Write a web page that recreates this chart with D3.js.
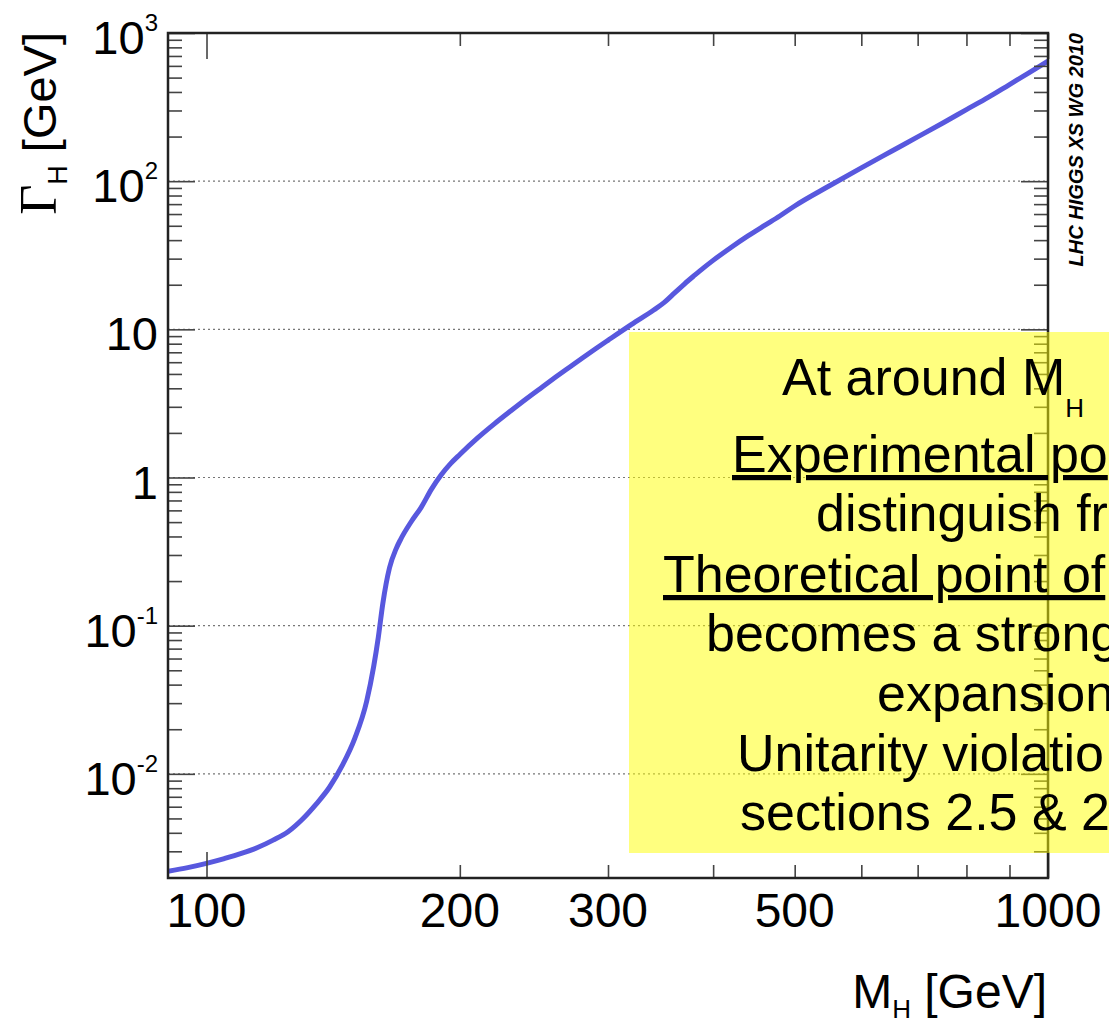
<!DOCTYPE html>
<html><head><meta charset="utf-8">
<script src="https://cdn.jsdelivr.net/npm/d3@7"></script>
<style>html,body{margin:0;padding:0;background:#fff;overflow:hidden}</style>
</head><body>
<svg id="chart" width="1109" height="1023"></svg>
<script>
// ---------- data ----------
const massGeV  = [90, 95, 100, 105, 110, 115, 120, 125, 130, 135, 140, 145, 150, 155, 158, 160, 162, 165, 168, 170, 175, 180, 185, 190, 195, 200, 210, 220, 230, 240, 250, 260, 270, 280, 290, 300, 320, 340, 350, 360, 370, 380, 390, 400, 420, 440, 460, 480, 500, 550, 600, 650, 700, 750, 800, 850, 900, 950, 1000];
const widthGeV = [0.00220, 0.00233, 0.00249, 0.00268, 0.00290, 0.00318, 0.00357, 0.00407, 0.00494, 0.00625, 0.00812, 0.0114, 0.0173, 0.0309, 0.0530, 0.0831, 0.141, 0.246, 0.330, 0.380, 0.501, 0.631, 0.832, 1.04, 1.24, 1.43, 1.85, 2.31, 2.82, 3.40, 4.04, 4.76, 5.55, 6.43, 7.39, 8.43, 10.8, 13.5, 15.2, 17.6, 20.3, 23.1, 26.1, 29.2, 35.7, 42.7, 50.1, 58.2, 68.0, 93.1, 123, 158, 199, 247, 304, 369, 449, 540, 647];

const xLabelValues = [100, 200, 300, 500, 1000];
const xMajorTickValues = [100, 1000];
const xMinorTickValues = [200, 300, 400, 500, 600, 700, 800, 900];
const yDecadeValues = [0.01, 0.1, 1, 10, 100, 1000];
const yLabelBase = ["10", "10", "1", "10", "10", "10"];
const yLabelExp  = ["-2", "-1", "", "", "2", "3"];
const yGridValues = [0.01, 0.1, 1, 10, 100];

const xTitleMain = "M", xTitleSub = "H", xTitleRest = " [GeV]";
const yTitleMain = "\u0393", yTitleSub = "H", yTitleRest = " [GeV]";
const stampText = "LHC HIGGS XS WG 2010";

const boxLines = [
  {parts: [["At around M", 0], ["H", 1]], underline: false},
  {parts: [["Experimental po", 0]], underline: true},
  {parts: [["distinguish fr", 0]], underline: false},
  {parts: [["Theoretical point of", 0]], underline: true},
  {parts: [["becomes a strong", 0]], underline: false},
  {parts: [["expansion", 0]], underline: false},
  {parts: [["Unitarity violatio", 0]], underline: false},
  {parts: [["sections 2.5 & 2", 0]], underline: false}
];

// ---------- layout ----------
const L = 168, R = 1048, T = 33, B = 878;
const boxX = [782, 732, 816, 663, 706, 877, 737, 740];
const boxY = [395, 472, 531, 592, 651, 711, 771, 830];

const svg = d3.select("#chart");
const x = d3.scaleLog().domain([90, 1000]).range([L, R]);
const y = d3.scaleLog().domain([Math.pow(10, -2.703), 1000]).range([B, T]);

const yMinorTickValues = [];
for (let k = -3; k <= 2; k++) for (let m = 2; m <= 9; m++) {
  const v = m * Math.pow(10, k);
  if (v > y.domain()[0] * 1.03 && v < 1000) yMinorTickValues.push(v);
}

const font = "'Liberation Sans', Arial, Helvetica, sans-serif";

// grid
svg.append("g").selectAll("line").data(yGridValues).join("line")
  .attr("x1", L).attr("x2", R).attr("y1", d => y(d)).attr("y2", d => y(d))
  .attr("stroke", "#777").attr("stroke-width", 1.2).attr("stroke-dasharray", "2,3");

// curve
svg.append("clipPath").attr("id", "plotclip").append("rect")
  .attr("x", L).attr("y", T).attr("width", R - L).attr("height", B - T);
const line = d3.line().x(d => x(d[0])).y(d => y(d[1])).curve(d3.curveMonotoneX);
svg.append("path").datum(massGeV.map((m, i) => [m, widthGeV[i]]))
  .attr("clip-path", "url(#plotclip)")
  .attr("d", line).attr("fill", "none").attr("stroke", "#5858de").attr("stroke-width", 5)
  .attr("stroke-linejoin", "round");

// ticks via d3 axes
function ticks(axisFn, scale, vals, size, tr) {
  const g = svg.append("g").attr("transform", tr)
    .call(axisFn(scale).tickValues(vals).tickSize(size).tickFormat(""));
  g.select(".domain").remove();
  g.selectAll("line").attr("stroke", "#444").attr("stroke-width", 1.6);
}
ticks(d3.axisTop, x, xMajorTickValues, 26, `translate(0,${B})`);
ticks(d3.axisTop, x, xMinorTickValues, 13, `translate(0,${B})`);
ticks(d3.axisBottom, x, xMajorTickValues, 26, `translate(0,${T})`);
ticks(d3.axisBottom, x, xMinorTickValues, 13, `translate(0,${T})`);
ticks(d3.axisRight, y, yDecadeValues, 27, `translate(${L},0)`);
ticks(d3.axisRight, y, yMinorTickValues, 14, `translate(${L},0)`);
ticks(d3.axisLeft, y, yDecadeValues, 27, `translate(${R},0)`);
ticks(d3.axisLeft, y, yMinorTickValues, 14, `translate(${R},0)`);

// frame
svg.append("rect").attr("x", L).attr("y", T).attr("width", R - L).attr("height", B - T)
  .attr("fill", "none").attr("stroke", "#222").attr("stroke-width", 2.5);

// x labels
svg.append("g").selectAll("text").data(xLabelValues).join("text")
  .attr("x", d => x(d)).attr("y", 927).attr("text-anchor", "middle")
  .attr("font-family", font).attr("font-size", 48).attr("fill", "#000")
  .text(d => d);

// y labels
const yl = svg.append("g").selectAll("text").data(yDecadeValues).join("text")
  .attr("x", 158).attr("y", d => y(d) + 21).attr("text-anchor", "end")
  .attr("font-family", font).attr("font-size", 47).attr("fill", "#000");
yl.append("tspan").text((d, i) => yLabelBase[i]);
yl.append("tspan").attr("font-size", 24).attr("dy", -23).text((d, i) => yLabelExp[i]);

// x title
const xt = svg.append("text").attr("x", 1047).attr("y", 1008).attr("text-anchor", "end")
  .attr("font-family", font).attr("font-size", 48).attr("fill", "#000");
xt.append("tspan").text(xTitleMain);
xt.append("tspan").attr("font-size", 26).attr("dy", 10).text(xTitleSub);
xt.append("tspan").attr("dy", -10).text(xTitleRest);

// y title
const yt = svg.append("text").attr("transform", "translate(56,32) rotate(-90)")
  .attr("text-anchor", "end").attr("font-family", font).attr("font-size", 47).attr("fill", "#000");
yt.append("tspan").attr("font-family", "'Liberation Serif','DejaVu Serif',serif").attr("font-size", 52).text(yTitleMain);
yt.append("tspan").attr("font-size", 27).attr("dy", 11).text(yTitleSub);
yt.append("tspan").attr("dy", -11).text(yTitleRest);

// stamp
svg.append("text").attr("transform", "translate(1083,33) rotate(-90)")
  .attr("text-anchor", "end").attr("font-family", font).attr("font-size", 20)
  .attr("font-weight", "bold").attr("font-style", "italic").attr("fill", "#000")
  .text(stampText);

// yellow note box
svg.append("rect").attr("x", 629).attr("y", 332).attr("width", 500).attr("height", 521)
  .attr("fill", "#ffff00").attr("fill-opacity", 0.5);
boxLines.forEach((ln, i) => {
  const t = svg.append("text").attr("x", boxX[i]).attr("y", boxY[i])
    .attr("font-family", font).attr("font-size", 52).attr("fill", "#000")
    .attr("text-decoration", ln.underline ? "underline" : null);
  let shift = 0;
  ln.parts.forEach(([s, sub]) => {
    const ts = t.append("tspan").text(s);
    if (sub) { ts.attr("font-size", 26).attr("dy", 22 - shift); shift = 22; }
    else if (shift) { ts.attr("dy", -shift); shift = 0; }
  });
});
</script>
</body></html>
